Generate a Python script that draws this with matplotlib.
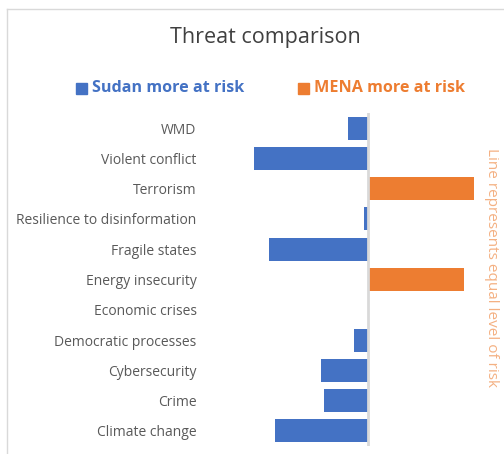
import matplotlib
matplotlib.use("Agg")
import matplotlib.pyplot as plt
from matplotlib.lines import Line2D
from matplotlib.patches import Rectangle

categories = ["WMD", "Violent conflict", "Terrorism", "Resilience to disinformation",
              "Fragile states", "Energy insecurity", "Economic crises",
              "Democratic processes", "Cybersecurity", "Crime", "Climate change"]
values = [-0.20, -1.14, 1.06, -0.04, -0.99, 0.96, 0.0, -0.14, -0.47, -0.44, -0.93]

BLUE = "#4472C4"
ORANGE = "#ED7D31"
GRAY = "#595959"
FONT = ["Open Sans", "DejaVu Sans"]

W, H = 504, 454
fig = plt.figure(figsize=(W / 100, H / 100), dpi=100)

def px(x0, y0, x1, y1):
    return [x0 / W, 1 - y1 / H, (x1 - x0) / W, (y1 - y0) / H]

ax = fig.add_axes(px(205, 113, 480, 446))
ypos = list(range(len(categories)))
colors = [BLUE if v < 0 else ORANGE for v in values]
ax.barh(ypos, values, height=0.76, color=colors, zorder=2)
ax.axvline(0, color="#D9D9D9", lw=2, zorder=3)
ax.set_xlim(-1.63, 1.12)
ax.set_ylim(len(categories) - 0.5, -0.5)
ax.set_yticks(ypos)
ax.set_yticklabels(categories, family=FONT, fontsize=10, color=GRAY)
ax.tick_params(axis="y", length=0, pad=6)
ax.set_xticks([])
for s in ax.spines.values():
    s.set_visible(False)

fig.text(265 / W, 1 - 38 / H, "Threat comparison", ha="center", va="center",
         family=FONT, fontsize=15.5, color="#404040")

# legend
fig.patches.append(Rectangle((76 / W, 1 - 94 / H), 11 / W, 11 / H,
                             transform=fig.transFigure, color=BLUE))
fig.text(92 / W, 1 - 88 / H, "Sudan more at risk", ha="left", va="center",
         family=FONT, fontsize=11.6, fontweight="bold", color=BLUE)
fig.patches.append(Rectangle((298 / W, 1 - 94 / H), 11 / W, 11 / H,
                             transform=fig.transFigure, color=ORANGE))
fig.text(314 / W, 1 - 88 / H, "MENA more at risk", ha="left", va="center",
         family=FONT, fontsize=11.6, fontweight="bold", color=ORANGE)

fig.text(492 / W, 1 - 268 / H, "Line represents equal level of risk", rotation=-90,
         ha="center", va="center", family=FONT, fontsize=11, color="#F4B183")

# chart frame (top and left edges visible)
fig.lines.append(Line2D([7 / W, 1], [1 - 9 / H, 1 - 9 / H], transform=fig.transFigure,
                        color="#D9D9D9", lw=1))
fig.lines.append(Line2D([7 / W, 7 / W], [0, 1 - 9 / H], transform=fig.transFigure,
                        color="#D9D9D9", lw=1))

fig.savefig("out.png", dpi=100, facecolor="white")
